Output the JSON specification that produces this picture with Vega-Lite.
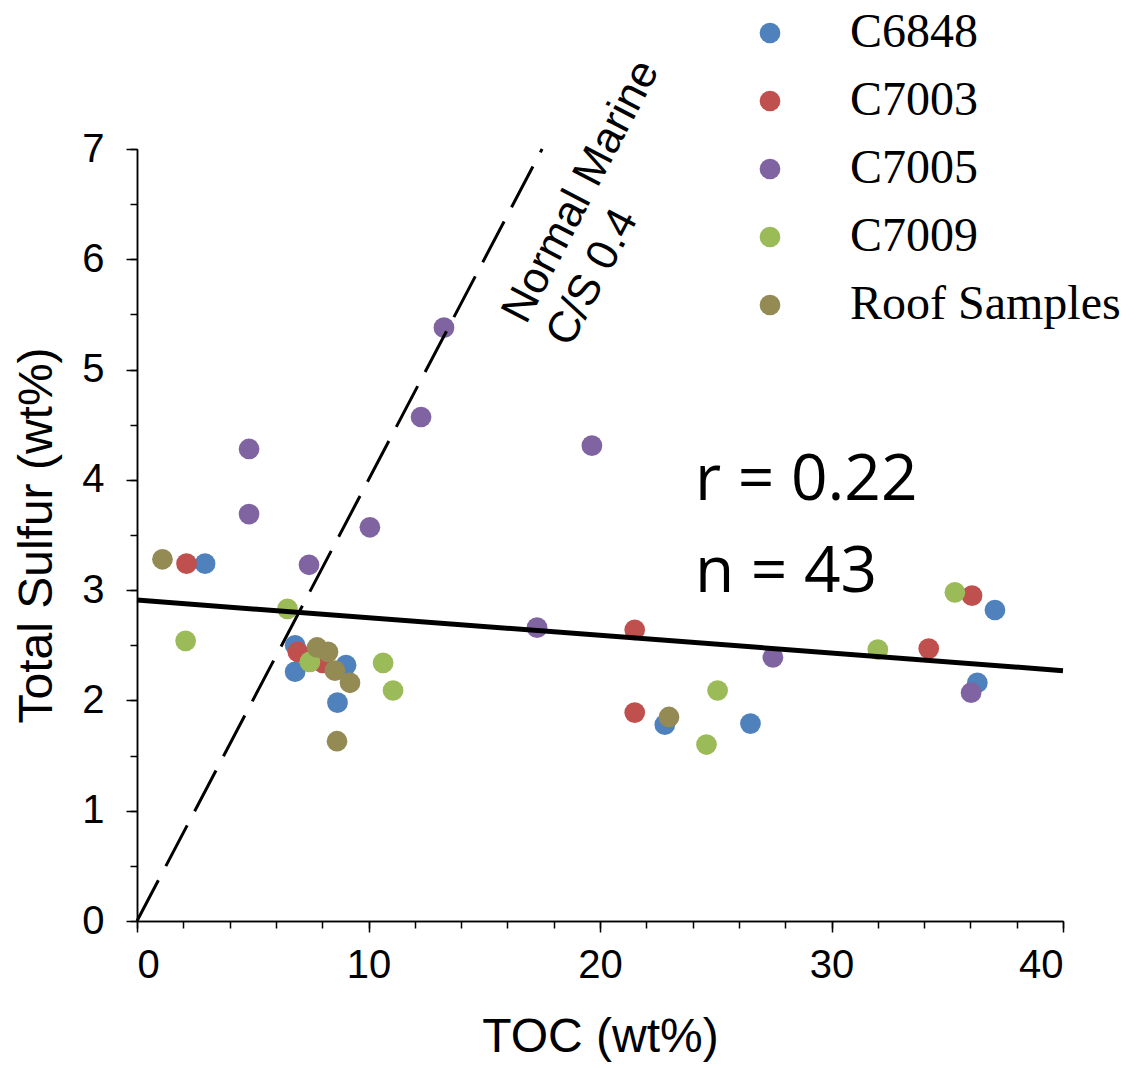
{
  "$schema": "https://vega.github.io/schema/vega-lite/v6.json",
  "width": 926,
  "height": 772,
  "autosize": {"type": "none"},
  "padding": {"left": 137, "top": 149, "right": 84, "bottom": 147},
  "background": "white",
  "config": {
    "view": {"stroke": null},
    "axis": {
      "grid": false,
      "domainColor": "black",
      "domainWidth": 1.5,
      "tickColor": "black",
      "tickWidth": 1.5,
      "labelFont": "Liberation Sans",
      "labelFontSize": 40,
      "labelColor": "black",
      "titleFont": "Liberation Sans",
      "titleFontSize": 48,
      "titleFontWeight": "normal",
      "titleColor": "black"
    }
  },
  "datasets": {
    "samples": [
      {"series": "C6848", "toc": 2.94, "ts": 3.24},
      {"series": "C6848", "toc": 6.83, "ts": 2.50},
      {"series": "C6848", "toc": 6.83, "ts": 2.26},
      {"series": "C6848", "toc": 9.03, "ts": 2.32},
      {"series": "C6848", "toc": 8.66, "ts": 1.98},
      {"series": "C6848", "toc": 22.8, "ts": 1.78},
      {"series": "C6848", "toc": 26.5, "ts": 1.79},
      {"series": "C6848", "toc": 37.06, "ts": 2.82},
      {"series": "C6848", "toc": 36.3, "ts": 2.16},
      {"series": "C7003", "toc": 2.14, "ts": 3.24},
      {"series": "C7003", "toc": 6.95, "ts": 2.44},
      {"series": "C7003", "toc": 8.03, "ts": 2.34},
      {"series": "C7003", "toc": 21.5, "ts": 2.64},
      {"series": "C7003", "toc": 21.5, "ts": 1.89},
      {"series": "C7003", "toc": 34.2, "ts": 2.47},
      {"series": "C7003", "toc": 36.07, "ts": 2.95},
      {"series": "C7005", "toc": 4.84, "ts": 4.28},
      {"series": "C7005", "toc": 4.84, "ts": 3.69},
      {"series": "C7005", "toc": 7.43, "ts": 3.23},
      {"series": "C7005", "toc": 10.06, "ts": 3.57},
      {"series": "C7005", "toc": 12.27, "ts": 4.57},
      {"series": "C7005", "toc": 13.26, "ts": 5.38},
      {"series": "C7005", "toc": 19.65, "ts": 4.31},
      {"series": "C7005", "toc": 17.28, "ts": 2.66},
      {"series": "C7005", "toc": 27.47, "ts": 2.39},
      {"series": "C7005", "toc": 36.03, "ts": 2.07},
      {"series": "C7009", "toc": 2.1, "ts": 2.54},
      {"series": "C7009", "toc": 6.5, "ts": 2.83},
      {"series": "C7009", "toc": 7.47, "ts": 2.35},
      {"series": "C7009", "toc": 10.63, "ts": 2.34},
      {"series": "C7009", "toc": 11.06, "ts": 2.09},
      {"series": "C7009", "toc": 32.0, "ts": 2.46},
      {"series": "C7009", "toc": 35.33, "ts": 2.98},
      {"series": "C7009", "toc": 25.08, "ts": 2.09},
      {"series": "C7009", "toc": 24.6, "ts": 1.60},
      {"series": "Roof Samples", "toc": 1.1, "ts": 3.28},
      {"series": "Roof Samples", "toc": 7.78, "ts": 2.48},
      {"series": "Roof Samples", "toc": 8.25, "ts": 2.44},
      {"series": "Roof Samples", "toc": 8.55, "ts": 2.27},
      {"series": "Roof Samples", "toc": 9.2, "ts": 2.16},
      {"series": "Roof Samples", "toc": 8.64, "ts": 1.63},
      {"series": "Roof Samples", "toc": 22.98, "ts": 1.85}
    ],
    "trend": [
      {"toc": 0, "ts": 2.91},
      {"toc": 40, "ts": 2.27}
    ],
    "marine": [
      {"toc": 0, "ts": 0},
      {"toc": 17.5, "ts": 7}
    ],
    "stats": [
      {"toc": 24.1, "ts": 3.82, "label": "r = 0.22"},
      {"toc": 24.1, "ts": 2.98, "label": "n = 43"}
    ],
    "marineLabel": [
      {"toc": 16.8, "ts": 5.4, "label": ["Normal Marine", "C/S 0.4"]}
    ]
  },
  "layer": [
    {
      "data": {"name": "samples"},
      "mark": {"type": "circle", "size": 430, "opacity": 1},
      "encoding": {
        "x": {
          "field": "toc", "type": "quantitative",
          "scale": {"domain": [0, 40], "nice": false, "zero": true},
          "axis": {
            "orient": "bottom",
            "values": [0, 2, 4, 6, 8, 10, 12, 14, 16, 18, 20, 22, 24, 26, 28, 30, 32, 34, 36, 38, 40],
            "labels": false, "tickSize": 7, "title": null
          }
        },
        "y": {
          "field": "ts", "type": "quantitative",
          "scale": {"domain": [0, 7], "nice": false},
          "axis": {
            "orient": "left",
            "values": [0, 0.5, 1, 1.5, 2, 2.5, 3, 3.5, 4, 4.5, 5, 5.5, 6, 6.5, 7],
            "labels": false, "tickSize": 7, "title": null
          }
        },
        "color": {
          "field": "series", "type": "nominal",
          "scale": {
            "domain": ["C6848", "C7003", "C7005", "C7009", "Roof Samples"],
            "range": ["#4F81BD", "#C0504D", "#8064A2", "#9BBB59", "#948A54"]
          },
          "legend": {
            "title": null,
            "orient": "none",
            "legendX": 609,
            "legendY": -140,
            "padding": 0,
            "symbolType": "circle",
            "symbolSize": 430,
            "symbolOpacity": 1,
            "symbolStrokeWidth": 0,
            "labelFont": "Liberation Serif",
            "labelFontSize": 48,
            "labelColor": "black",
            "labelOffset": 56,
            "labelLimit": 500,
            "rowPadding": 20
          }
        }
      }
    },
    {
      "data": {"name": "trend"},
      "mark": {"type": "line", "color": "black", "strokeWidth": 5},
      "encoding": {
        "x": {
          "field": "toc", "type": "quantitative",
          "axis": {
            "orient": "bottom",
            "values": [0, 10, 20, 30, 40],
            "tickSize": 11, "labelPadding": 13, "labelOverlap": false,
            "title": "TOC (wt%)", "titlePadding": 28
          }
        },
        "y": {
          "field": "ts", "type": "quantitative",
          "axis": {
            "orient": "left",
            "values": [0, 1, 2, 3, 4, 5, 6, 7],
            "tickSize": 11, "labelPadding": 22, "labelOverlap": false,
            "title": "Total Sulfur (wt%)", "titlePadding": 20
          }
        }
      }
    },
    {
      "data": {"name": "marine"},
      "mark": {"type": "line", "color": "black", "strokeWidth": 3, "strokeDash": [46, 16]},
      "encoding": {
        "x": {"field": "toc", "type": "quantitative", "axis": null},
        "y": {"field": "ts", "type": "quantitative", "axis": null}
      }
    },
    {
      "data": {"name": "stats"},
      "mark": {"type": "text", "font": "Open Sans", "fontSize": 64, "align": "left", "baseline": "alphabetic", "color": "black"},
      "encoding": {
        "x": {"field": "toc", "type": "quantitative", "axis": null},
        "y": {"field": "ts", "type": "quantitative", "axis": null},
        "text": {"field": "label"}
      }
    },
    {
      "data": {"name": "marineLabel"},
      "mark": {"type": "text", "font": "Liberation Sans", "fontSize": 44, "align": "left", "baseline": "alphabetic", "angle": 297.6, "lineHeight": 50, "color": "black"},
      "encoding": {
        "x": {"field": "toc", "type": "quantitative", "axis": null},
        "y": {"field": "ts", "type": "quantitative", "axis": null},
        "text": {"field": "label"}
      }
    }
  ],
  "resolve": {"axis": {"x": "independent", "y": "independent"}}
}
